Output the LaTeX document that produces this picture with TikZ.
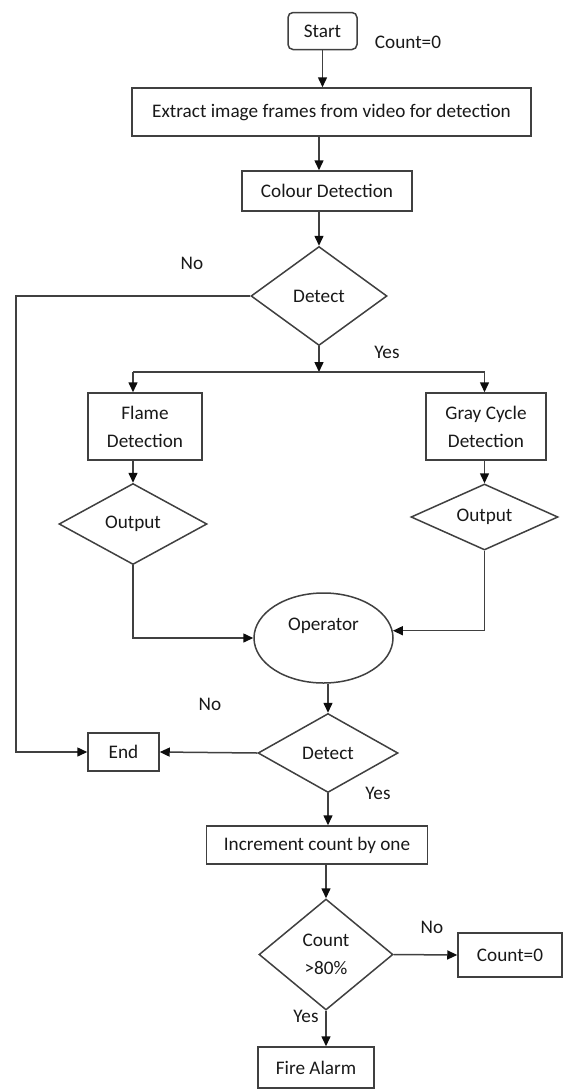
\documentclass[tikz,border=0pt]{standalone}
\usepackage{fontspec}
\setmainfont{Carlito}
\usetikzlibrary{shapes.geometric,arrows.meta,calc}
\tikzset{
  base/.style={draw=black!75, line width=1.5pt, text=black!90, font=\fontsize{19.2}{28}\selectfont, inner sep=0pt, align=center},
  box/.style={base, rectangle},
  dia/.style={base, diamond, shape aspect=1.4},
  conn/.style={draw=black!75, line width=1.5pt},
  arr/.style={conn, -{Triangle[length=10pt,width=9pt,color=black!95]}},
  lbl/.style={text=black!90, font=\fontsize{19.2}{28}\selectfont, inner sep=0pt}
}
\begin{document}
\begin{tikzpicture}[x=1pt,y=-1pt]
\useasboundingbox[fill=white] (0,0) rectangle (563,1090);
% nodes
\node[box, rounded corners=5pt, minimum width=69, minimum height=37] (start) at (322.5,31) {Start};
\node[lbl] (c0) at (408,42) {Count=0};
\node[box, minimum width=399, minimum height=48] (extract) at (331.5,112) {Extract image frames from video for detection};
\node[box, minimum width=170, minimum height=40] (colour) at (327,191) {Colour Detection};
\node[dia, minimum width=136, minimum height=99] (det1) at (319,296) {Detect};
\node[box, minimum width=114, minimum height=67] (flame) at (145,426.5) {Flame\\Detection};
\node[box, minimum width=120, minimum height=67] (gray) at (486,426.5) {Gray Cycle\\Detection};
\node[dia, minimum width=148, minimum height=81] (out1) at (133,524) {Output};
\node[dia, minimum width=147, minimum height=66] (out2) at (484.5,517) {Output};
\node[base, ellipse, minimum width=139, minimum height=90] (op) at (323.5,638) {Operator\\\mbox{}};
\node[dia, minimum width=140, minimum height=79] (det2) at (328,753) {Detect};
\node[box, minimum width=71, minimum height=38] (end) at (123.5,752) {End};
\node[box, minimum width=221, minimum height=38] (inc) at (317,845) {Increment count by one};
\node[dia, minimum width=134, minimum height=111] (cnt) at (326,954.5) {Count\\>80\%};
\node[box, minimum width=104, minimum height=44] (zero) at (510,955) {Count=0};
\node[box, minimum width=116, minimum height=41] (fire) at (316,1067.5) {Fire Alarm};
% labels
\node[lbl] (no1) at (192,263) {No};
\node[lbl] (yes1) at (387,352) {Yes};
\node[lbl] (no2) at (210,704) {No};
\node[lbl] (yes2) at (378,793) {Yes};
\node[lbl] (no3) at (432,927) {No};
\node[lbl] (yes3) at (306,1016) {Yes};
% coordinates
\coordinate (j) at (319,372);
\coordinate (lft) at (16,296);
% connectors
\draw[arr] (start.south) -- (start.south |- extract.north);
\draw[arr] (extract.south -| det1) -- (colour.north -| det1);
\draw[arr] (colour.south -| det1) -- (det1.north);
\draw[arr] (det1.south) -- (j);
\draw[conn] (j -| out1) -- (j -| out2);
\draw[arr] (j -| out1) -- (flame.north -| out1);
\draw[arr] (j -| out2) -- (gray.north -| out2);
\draw[arr] (flame.south -| out1) -- (out1.north);
\draw[arr] (gray.south -| out2) -- (out2.north);
\draw[arr] (out1.south) |- (op.west);
\draw[arr] (out2.south) |- (op.6);
\draw[arr] (op.south -| det2) -- (det2.north);
\draw[arr] (det1.west) -- (lft) |- (end.west);
\draw[arr] (det2.west) -- (end.east);
\draw[arr] (det2.south) -- (inc.north -| det2);
\draw[arr] (inc.south -| cnt) -- (cnt.north);
\draw[arr] (cnt.east) -- (zero.west);
\draw[arr] (cnt.south) -- (fire.north -| cnt);
\end{tikzpicture}
\end{document}
